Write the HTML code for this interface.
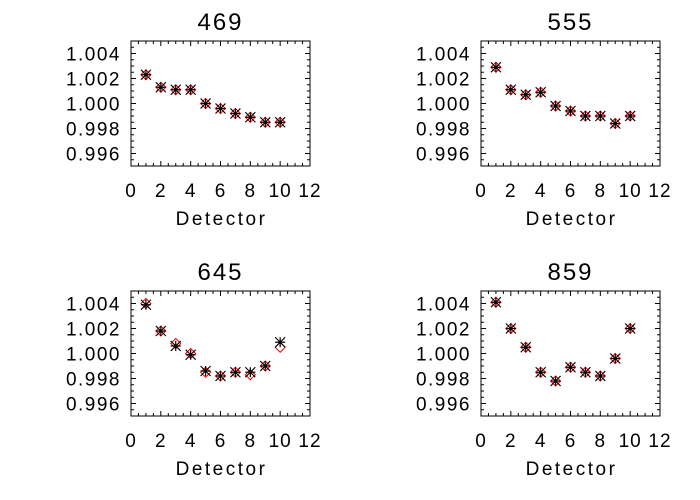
<!DOCTYPE html>
<html><head><meta charset="utf-8"><style>
html,body{margin:0;padding:0;background:#fff;}
svg{display:block;}
text{font-family:"Liberation Sans",sans-serif;fill:#000;}
</style></head><body>
<svg id="s" width="700" height="500" xmlns="http://www.w3.org/2000/svg"></svg>
<script>
const S=document.getElementById('s');let h='';
const panels=[
 {t:'469',dx:0,dy:0,b:[1.0023,1.0013,1.0011,1.0011,1.0000,0.9996,0.9992,0.9989,0.9985,0.9985],r:null},
 {t:'555',dx:350,dy:0,b:[1.0029,1.0011,1.0007,1.0009,0.9998,0.9994,0.9990,0.9990,0.9984,0.9990],r:null},
 {t:'645',dx:0,dy:250,b:[1.0039,1.0018,1.0006,0.9999,0.9986,0.9982,0.9985,0.9985,0.9990,1.0009],r:[1.0040,1.0018,1.0008,1.0000,0.9985,0.9982,0.9985,0.9983,0.9990,1.0005]},
 {t:'859',dx:350,dy:250,b:[1.0041,1.0020,1.0005,0.9985,0.9978,0.9989,0.9985,0.9982,0.9996,1.0020],r:null}
];
for(const p of panels){
 const x0=131+p.dx,x1=310+p.dx,y0=41+p.dy,y1=166+p.dy;
 const X=v=>x0+(x1-x0)*v/12, Y=v=>y1-(y1-y0)*(v-0.995)/0.01;
 h+=`<rect x="${x0}" y="${y0}" width="${x1-x0}" height="${y1-y0}" fill="none" stroke="#000" stroke-width="1"/>`;
 for(let i=0;i<=24;i++){const x=X(i/2),L=i%4==0?5:3;h+=`<line x1="${x}" y1="${y1}" x2="${x}" y2="${y1-L}" stroke="#000"/><line x1="${x}" y1="${y0}" x2="${x}" y2="${y0+L}" stroke="#000"/>`;}
 for(let i=0;i<=20;i++){const y=Y(0.995+i*0.0005),L=i%4==2?5:3;h+=`<line x1="${x0}" y1="${y}" x2="${x0+L}" y2="${y}" stroke="#000"/><line x1="${x1}" y1="${y}" x2="${x1-L}" y2="${y}" stroke="#000"/>`;}
 for(let v=0;v<=12;v+=2)h+=`<text x="${X(v)}" y="${y1+31}" font-size="19" text-anchor="middle" letter-spacing="1">${v}</text>`;
 ['0.996','0.998','1.000','1.002','1.004'].forEach(s=>{h+=`<text x="${x0-10}" y="${Y(+s)+7}" font-size="19" text-anchor="end" letter-spacing="1.5">${s}</text>`;});
 h+=`<text x="${(x0+x1)/2+1}" y="${y1+59}" font-size="19" text-anchor="middle" letter-spacing="2.5">Detector</text>`;
 h+=`<text x="${(x0+x1)/2}" y="${y0-11}" font-size="24" text-anchor="middle" letter-spacing="2">${p.t}</text>`;
 const rr=p.r||p.b;
 rr.forEach((v,i)=>{const x=X(i+1),y=Y(v),d=5;h+=`<polygon points="${x},${y-d} ${x+d},${y} ${x},${y+d} ${x-d},${y}" fill="none" stroke="#f00" stroke-width="1"/>`;});
 p.b.forEach((v,i)=>{const x=X(i+1),y=Y(v),d=5;h+=`<path d="M${x-d} ${y}H${x+d}M${x} ${y-d}V${y+d}M${x-d} ${y-d}L${x+d} ${y+d}M${x-d} ${y+d}L${x+d} ${y-d}" stroke="#000" stroke-width="1.2"/>`;});
}
S.innerHTML=h;
</script>
</body></html>
